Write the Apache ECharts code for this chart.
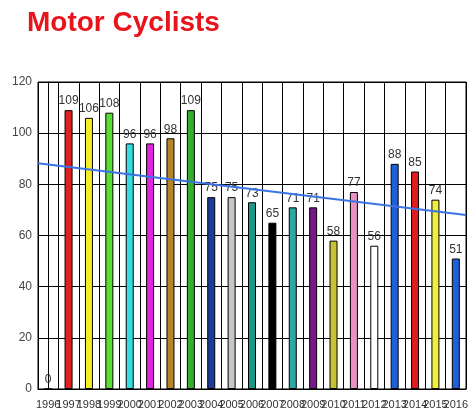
<!DOCTYPE html>
<html>
<head>
<meta charset="utf-8">
<script src="https://cdn.jsdelivr.net/npm/echarts@6/dist/echarts.min.js"></script>
<style>
html,body{margin:0;padding:0;background:#fff;}
#chart{width:474px;height:415px;}
</style>
</head>
<body>
<div id="chart"></div>
<script>
var titleText = 'Motor Cyclists';
var years = ['1996','1997','1998','1999','2000','2001','2002','2003','2004','2005','2006','2007','2008','2009','2010','2011','2012','2013','2014','2015','2016'];
var values = [0,109,106,108,96,96,98,109,75,75,73,65,71,71,58,77,56,88,85,74,51];
var barColors = ['#e02020','#e02020','#f4ee28','#58de36','#34dede','#e024e0','#b88428','#34ae2c','#1c3c98','#c8c6c6','#1c9888','#000000','#2ea8a0','#781888','#c6c232','#ea92c2','#ffffff','#2060dc','#e01c1c','#f2ee3c','#2060dc'];
var yTicks = {min:0, max:120, interval:20};

// least-squares trend line over the series
var n = values.length, mx = (n-1)/2, my = 0;
values.forEach(function(v){ my += v; }); my /= n;
var sxy = 0, sxx = 0;
values.forEach(function(v,i){ sxy += (i-mx)*(v-my); sxx += (i-mx)*(i-mx); });
var slope = sxy/sxx;
var trend = [[-0.5, my + slope*(-0.5-mx)], [n-0.5, my + slope*(n-0.5-mx)]];

var chart = echarts.init(document.getElementById('chart'));
chart.setOption({
  animation:false,
  backgroundColor:'#ffffff',
  title:{text:titleText,left:22,top:4,textStyle:{color:'#e8141c',fontSize:28,fontWeight:'bold',fontFamily:'Liberation Sans, Arial, sans-serif'}},
  grid:{left:38,right:8,top:82,bottom:26,show:true,borderColor:'#000',borderWidth:1},
  xAxis:[{
    type:'category',data:years,boundaryGap:true,
    axisLine:{lineStyle:{color:'#000',width:1}},
    axisTick:{show:false},
    axisLabel:{interval:0,fontSize:11,color:'#333',margin:10,fontFamily:'Liberation Sans, Arial, sans-serif'},
    splitLine:{show:true,interval:0,lineStyle:{color:'#000',width:1}}
  },{
    type:'value',min:-0.5,max:n-0.5,show:false
  }],
  yAxis:{
    type:'value',min:yTicks.min,max:yTicks.max,interval:yTicks.interval,
    axisLine:{show:true,lineStyle:{color:'#000'}},
    axisTick:{show:false},
    axisLabel:{fontSize:12,color:'#444',margin:6,fontFamily:'Liberation Sans, Arial, sans-serif'},
    splitLine:{lineStyle:{color:'#000',width:1}}
  },
  series:[{
    type:'bar',barWidth:8,
    data:values.map(function(v,i){return {value:v,itemStyle:{color:barColors[i],borderColor:'#000',borderWidth:1}};}),
    label:{show:true,position:'top',distance:3,fontSize:12,color:'#333',fontFamily:'Liberation Sans, Arial, sans-serif'}
  },{
    type:'line',xAxisIndex:1,data:trend,symbol:'none',
    lineStyle:{color:'#3a74e4',width:2},z:5
  }]
});
</script>
</body>
</html>
